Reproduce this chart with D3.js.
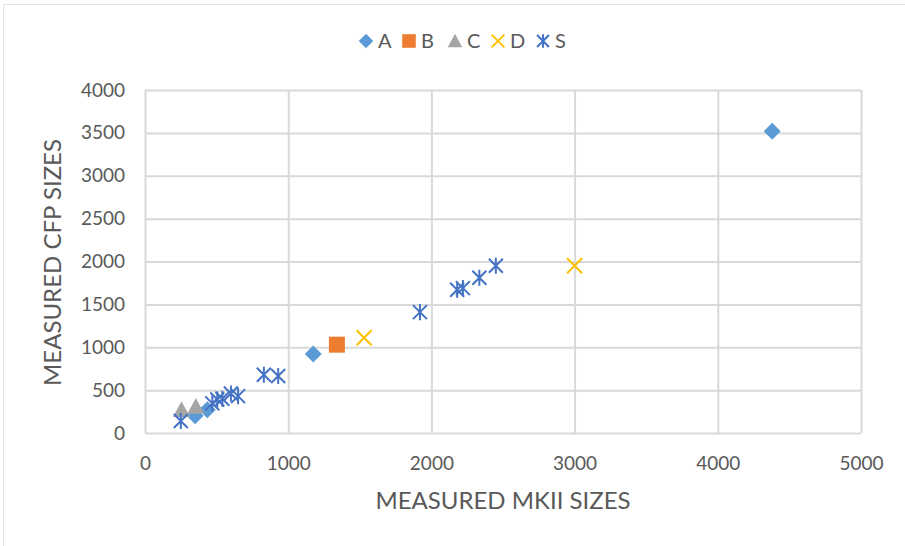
<!DOCTYPE html>
<html>
<head>
<meta charset="utf-8">
<script src="https://cdn.jsdelivr.net/npm/d3@7"></script>
<style>
  html, body { margin: 0; padding: 0; background: #fff; }
  svg { display: block; }
  text { font-family: Lato, "Open Sans", sans-serif; fill: #595959; }
</style>
</head>
<body>
<svg id="chart" width="905" height="546"></svg>
<script>
// Series: measured MKII size (x) vs measured CFP size (y)
const seriesNames = ["A", "B", "C", "D", "S"];
const seriesColors = ["#5b9bd5", "#ed7d31", "#a5a5a5", "#ffc000", "#4472c4"];
const seriesShapes = ["diamond", "square", "triangle", "cross", "star"];

const aX = [350, 435, 1175, 4380];
const aY = [200, 270, 920, 3520];
const bX = [1340];
const bY = [1030];
const cX = [255, 355];
const cY = [270, 310];
const dX = [1530, 3000];
const dY = [1110, 1950];
const sX = [250, 470, 505, 540, 600, 650, 830, 930, 1920, 2180, 2220, 2335, 2450];
const sY = [140, 345, 390, 400, 460, 430, 680, 665, 1410, 1670, 1690, 1810, 1950];

const xTicks = [0, 1000, 2000, 3000, 4000, 5000];
const yTicks = [0, 500, 1000, 1500, 2000, 2500, 3000, 3500, 4000];

const xTitle = "MEASURED MKII SIZES";
const yTitle = "MEASURED CFP SIZES";

const seriesX = [aX, bX, cX, dX, sX];
const seriesY = [aY, bY, cY, dY, sY];

const svg = d3.select("#chart");
const W = 905, H = 546;
const plot = { left: 145, right: 861, top: 90, bottom: 433 };

// chart frame
svg.append("rect")
  .attr("x", 3.5).attr("y", 4.5)
  .attr("width", W + 10).attr("height", H + 10)
  .attr("fill", "#fff").attr("stroke", "#e3e3e3").attr("stroke-width", 1);

const x = d3.scaleLinear().domain([0, 5000]).range([plot.left, plot.right]);
const y = d3.scaleLinear().domain([0, 4000]).range([plot.bottom, plot.top]);

const gridColor = "#d9d9d9";

// vertical gridlines + x tick labels
const xAxis = d3.axisBottom(x).tickValues(xTicks).tickSize(-(plot.bottom - plot.top)).tickPadding(24).tickFormat(d3.format("d"));
const gx = svg.append("g").attr("transform", `translate(0,${plot.bottom})`).call(xAxis);
gx.select(".domain").remove();
gx.selectAll(".tick line").attr("stroke", gridColor).attr("stroke-width", 2);
gx.selectAll(".tick text").attr("font-size", 19).attr("fill", "#595959")
  .attr("font-family", "Lato, sans-serif");

// horizontal gridlines + y tick labels
const yAxis = d3.axisLeft(y).tickValues(yTicks).tickSize(-(plot.right - plot.left)).tickPadding(20).tickFormat(d3.format("d"));
const gy = svg.append("g").attr("transform", `translate(${plot.left},0)`).call(yAxis);
gy.select(".domain").remove();
gy.selectAll(".tick line").attr("stroke", gridColor).attr("stroke-width", 2);
gy.selectAll(".tick text").attr("font-size", 19).attr("fill", "#595959")
  .attr("font-family", "Lato, sans-serif");

// axis titles
svg.append("text")
  .attr("x", 503).attr("y", 509)
  .attr("text-anchor", "middle").attr("font-size", 24)
  .text(xTitle);
svg.append("text")
  .attr("transform", `translate(61,${(plot.top + plot.bottom) / 2 + 1}) rotate(-90)`)
  .attr("text-anchor", "middle").attr("font-size", 24)
  .text(yTitle);

// marker path generator
function markerPath(shape, s) {
  switch (shape) {
    case "diamond": return `M0,${-s}L${s},0L0,${s}L${-s},0Z`;
    case "square": return `M${-s},${-s}H${s}V${s}H${-s}Z`;
    case "triangle": return `M0,${-s}L${s},${s * 0.85}H${-s}Z`;
    case "cross": return `M${-s},${-s}L${s},${s}M${-s},${s}L${s},${-s}`;
    case "star": return `M${-s},${-s}L${s},${s}M${-s},${s}L${s},${-s}M0,${-s * 1.15}V${s * 1.15}`;
  }
}
const markerSize = { diamond: 8.5, square: 8, triangle: 8.5, cross: 7.5, star: 7 };

function drawMarker(g, shape, color) {
  const p = g.append("path").attr("d", markerPath(shape, markerSize[shape]));
  if (shape === "cross" || shape === "star") {
    p.attr("fill", "none").attr("stroke", color).attr("stroke-width", 2);
  } else {
    p.attr("fill", color);
  }
}

// points
seriesNames.forEach((name, i) => {
  const g = svg.append("g").attr("class", "series-" + name);
  seriesX[i].forEach((xv, j) => {
    const m = g.append("g").attr("transform", `translate(${x(xv)},${y(seriesY[i][j])})`);
    drawMarker(m, seriesShapes[i], seriesColors[i]);
  });
});

// legend
const legendX = [366, 409, 455, 498, 543];
const legend = svg.append("g");
seriesNames.forEach((name, i) => {
  const item = legend.append("g").attr("transform", `translate(${legendX[i]},41)`);
  const shape = seriesShapes[i];
  const s = markerSize[shape];
  item.append("path")
    .attr("d", markerPath(shape, s * 0.85))
    .attr("fill", (shape === "cross" || shape === "star") ? "none" : seriesColors[i])
    .attr("stroke", (shape === "cross" || shape === "star") ? seriesColors[i] : "none")
    .attr("stroke-width", 2);
  item.append("text").attr("x", 12).attr("y", 7).attr("font-size", 20).text(name);
});
</script>
</body>
</html>
